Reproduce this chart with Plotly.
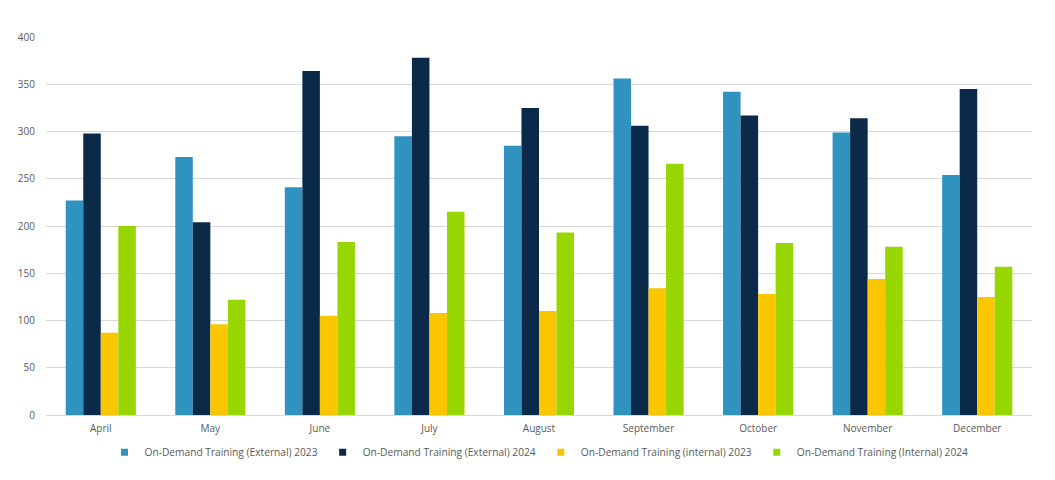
import plotly.graph_objects as go

months = ["April", "May", "June", "July", "August", "September", "October", "November", "December"]
ext_2023 = [227, 273, 241, 295, 285, 356, 342, 299, 254]
ext_2024 = [298, 204, 364, 378, 325, 306, 317, 314, 345]
int_2023 = [87, 96, 105, 108, 110, 134, 128, 144, 125]
int_2024 = [200, 122, 183, 215, 193, 266, 182, 178, 157]

series_names = [
    "On-Demand Training (External) 2023",
    "On-Demand Training (External) 2024",
    "On-Demand Training (internal) 2023",
    "On-Demand Training (Internal) 2024",
]
colors = ["#3092BF", "#0B2A4A", "#F9C600", "#97D600"]
y_ticks = [0, 50, 100, 150, 200, 250, 300, 350, 400]

fig = go.Figure()
for i, (name, vals, col) in enumerate(zip(series_names, [ext_2023, ext_2024, int_2023, int_2024], colors)):
    fig.add_trace(go.Bar(x=months, y=vals, name=name, legendgroup=f"g{i}", showlegend=False,
                         marker=dict(color=col, line=dict(width=0))))
for i, (name, col) in enumerate(zip(series_names, colors)):
    # legend entry with a small square symbol (linked to its bars)
    fig.add_trace(go.Scatter(x=[None], y=[None], mode="markers", name=name, legendgroup=f"g{i}",
                             marker=dict(symbol="square", size=7, color=col)))

fig.update_layout(
    width=1047, height=472,
    margin=dict(l=38, r=23, t=29, b=65),
    paper_bgcolor="white", plot_bgcolor="white",
    barmode="group", bargap=0.36, bargroupgap=0,
    font=dict(family="Open Sans, Liberation Sans, sans-serif", size=10, color="#595959"),
    showlegend=True,
    legend=dict(orientation="h", x=0.5, xanchor="center", yref="container", y=0.059, yanchor="middle",
                font=dict(size=10.2, color="#595959"), itemwidth=30, traceorder="normal",
                tracegroupgap=0),
    xaxis=dict(showgrid=False, showline=True, linecolor="#D9D9D9", linewidth=1, automargin=False,
               ticks="", tickfont=dict(size=10, color="#595959"), ticklabelstandoff=4),
    yaxis=dict(range=[0, 400], tickvals=y_ticks, showgrid=True, gridcolor="#D9D9D9", automargin=False,
               gridwidth=1, zeroline=False, showline=False, ticks="",
               tickfont=dict(size=10, color="#595959"), ticklabelstandoff=10),
)

fig.write_html("out.html")
